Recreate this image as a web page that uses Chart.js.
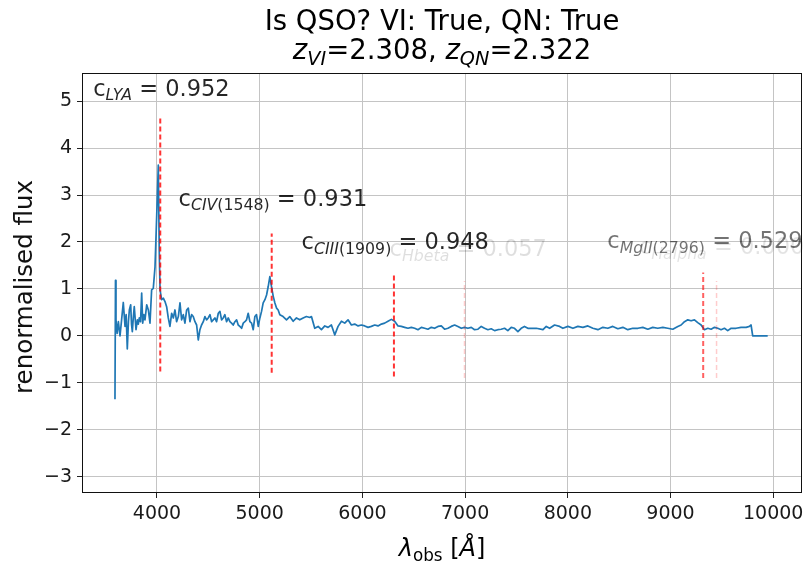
<!DOCTYPE html>
<html><head><meta charset="utf-8">
<script src="https://cdn.jsdelivr.net/npm/chart.js@4.4.1/dist/chart.umd.min.js"></script>
<style>html,body{margin:0;padding:0;background:#fff;}canvas{display:block;}</style>
</head><body>
<canvas id="c" width="811" height="566" style="width:811px;height:566px"></canvas>
<script>
// ---- data ----
const wavelength = [3591,3596,3601,3612,3624,3640,3656,3672,3689,3700,3711,3722,3731,3744,3752,3760,3770,3779,3796,3809,3818,3828,3840,3851,3861,3872,3883,3900,3916,3932,3948,3964,3981,3997,4013,4022,4030,4045,
4062,4078,4094,4110,4126,4143,4159,4175,4191,4208,4224,4240,4256,4272,4289,4305,4321,4337,4353,4370,4386,4402,4418,4434,4451,4467,4483,4499,4516,4532,4548,4564,4580,4597,4613,4629,4645,4661,4678,4694,4710,4726,4742,4759,4775,4791,4807,4824,4840,4856,4872,4888,4905,4921,4937,4953,4969,4986,5002,5018,5034,5051,5067,5083,5099,5115,5132,5148,5164,5180,
5196,5228,5261,5293,5326,5358,5390,5423,5455,5488,5504,5536,5569,5601,5634,5666,5698,5731,5763,5796,5828,5860,5893,5925,5958,5990,6023,6055,6087,6120,6152,6185,6217,6249,6282,6314,6347,6379,6411,6444,6476,6509,6541,6574,6606,6638,6671,6703,6736,6768,6800,6833,6865,6898,6930,6963,6995,7027,7060,7092,7125,7157,7189,7222,7254,7287,7319,7351,7384,7416,7449,7481,7514,7546,7578,7611,
7628,7693,7758,7790,7823,7871,7920,7952,8001,8050,8098,8147,8195,8244,8293,8341,8390,8438,8487,8536,8584,8633,8682,8730,8779,8827,8876,8925,8973,9022,9071,9103,9136,9168,9200,9233,9265,9298,9330,9363,9395,9428,9460,9492,9525,9557,9590,9638,9687,9736,9768,9784,9800,9898,9946];
const flux = [-1.35,1.18,0.34,0.05,0.30,0.00,0.35,0.71,0.20,0.45,-0.28,0.30,0.55,0.66,0.25,0.09,0.40,0.62,0.13,0.34,0.25,0.38,0.30,0.91,0.27,0.45,0.34,0.66,0.55,0.27,0.98,1.01,1.47,2.54,3.64,1.83,0.98,0.77,
0.80,0.73,0.62,0.38,0.20,0.48,0.38,0.55,0.30,0.41,0.70,0.34,0.45,0.27,0.55,0.59,0.30,0.45,0.41,0.30,0.23,-0.09,0.13,0.23,0.30,0.41,0.34,0.38,0.45,0.30,0.34,0.38,0.30,0.48,0.52,0.34,0.38,0.45,0.30,0.38,0.30,0.27,0.23,0.30,0.34,0.23,0.20,0.16,0.27,0.30,0.34,0.48,0.30,0.27,0.13,0.41,0.45,0.20,0.38,0.52,0.70,0.77,0.87,1.05,1.26,1.05,0.84,0.70,0.59,0.55,
0.45,0.41,0.34,0.41,0.31,0.38,0.34,0.38,0.41,0.39,0.41,0.16,0.20,0.13,0.21,0.18,0.23,0.02,0.20,0.31,0.27,0.34,0.23,0.25,0.21,0.23,0.21,0.18,0.20,0.23,0.21,0.25,0.27,0.31,0.35,0.31,0.21,0.20,0.18,0.16,0.18,0.16,0.13,0.18,0.16,0.14,0.18,0.16,0.20,0.21,0.14,0.16,0.20,0.23,0.20,0.16,0.18,0.16,0.18,0.13,0.14,0.20,0.16,0.13,0.15,0.11,0.13,0.14,0.16,0.11,0.18,0.16,0.09,0.16,0.20,0.16,
0.16,0.16,0.13,0.20,0.16,0.23,0.20,0.16,0.20,0.16,0.20,0.18,0.21,0.16,0.13,0.18,0.16,0.20,0.15,0.18,0.13,0.16,0.16,0.18,0.14,0.18,0.16,0.18,0.16,0.14,0.20,0.23,0.30,0.34,0.32,0.34,0.28,0.23,0.13,0.16,0.14,0.18,0.16,0.13,0.16,0.11,0.16,0.16,0.18,0.18,0.20,0.23,0.00,0.00,0.00];

const lineNames   = ['LYA', 'CIV(1548)', 'CIII(1909)', 'Hbeta', 'MgII(2796)', 'Halpha'];
const lineCenters = [4032, 5117, 6307, 6994, 9318, 9448];
const lineLow     = [-0.76, -0.79, -0.87, -0.90, -0.90, -0.90];
const lineHigh    = [4.63, 2.18, 1.35, 1.17, 1.35, 1.17];
const lineCoeffs  = ['0.952', '0.931', '0.948', '0.057', '0.529', '0.000'];

const xTicks = [4000, 5000, 6000, 7000, 8000, 9000, 10000];
const yTicks = [-3, -2, -1, 0, 1, 2, 3, 4, 5];

const titleText = 'Is QSO? VI: True, QN: True';
const zVI = '2.308', zQN = '2.322';

// ---- styling (not data) ----
const FONT = 'DejaVu Sans';
const lineStyles = [
  {color: 'rgba(255,0,0,0.8)', width: 2},
  {color: 'rgba(255,0,0,0.8)', width: 2},
  {color: 'rgba(255,0,0,0.8)', width: 2},
  {color: 'rgba(255,0,0,0.2)', width: 1.5},
  {color: 'rgba(255,0,0,0.62)', width: 2},
  {color: 'rgba(255,0,0,0.2)', width: 1.5}
];
const labelStyles = [
  {x: 3379, y: 5.11, alpha: 0.85},
  {x: 4210, y: 2.77, alpha: 0.85},
  {x: 5408, y: 1.84, alpha: 0.85},
  {x: 6265, y: 1.69, alpha: 0.13},
  {x: 8385, y: 1.87, alpha: 0.55},
  {x: 8692, y: 1.74, alpha: 0.11}
];

function fontStr(size, italic) { return (italic ? 'italic ' : '') + size + 'px "' + FONT + '"'; }
function richWidth(ctx, parts, size) {
  let w = 0;
  for (const p of parts) { ctx.font = fontStr(p.sub ? size * 0.7 : size, p.it); w += ctx.measureText(p.t).width; }
  return w;
}
function drawRich(ctx, parts, x, y, size, color, align) {
  ctx.save();
  ctx.fillStyle = color; ctx.textBaseline = 'alphabetic'; ctx.textAlign = 'left';
  let cx = x;
  if (align === 'center') cx = x - richWidth(ctx, parts, size) / 2;
  for (const p of parts) {
    const s = p.sub ? size * 0.7 : size;
    ctx.font = fontStr(s, p.it);
    ctx.fillText(p.t, cx, y + (p.sub ? size * 0.2 : 0));
    cx += ctx.measureText(p.t).width;
  }
  ctx.restore();
}
function subParts(name) {
  const out = [];
  const re = /([A-Za-z]+)|([^A-Za-z]+)/g; let m;
  while ((m = re.exec(name))) out.push({t: m[0], it: !!m[1], sub: true});
  return out;
}

const framePlugin = {
  id: 'frame',
  afterDatasetsDraw(chart) {
    const a = chart.chartArea, ctx = chart.ctx;
    ctx.save(); ctx.strokeStyle = '#111'; ctx.lineWidth = 1;
    ctx.strokeRect(Math.round(a.left) + 0.5, Math.round(a.top) + 0.5, Math.round(a.right - a.left) - 1, Math.round(a.bottom - a.top) - 1);
    ctx.restore();
  }
};
const textPlugin = {
  id: 'texts',
  afterDraw(chart) {
    const ctx = chart.ctx, a = chart.chartArea, xs = chart.scales.x, ys = chart.scales.y;
    const cx = (a.left + a.right) / 2;
    drawRich(ctx, [{t: titleText}], cx, 30, 27.5, '#000', 'center');
    drawRich(ctx, [{t: 'z', it: true}, {t: 'VI', it: true, sub: true}, {t: '=' + zVI + ', '},
                   {t: 'z', it: true}, {t: 'QN', it: true, sub: true}, {t: '=' + zQN}], cx, 59, 27.5, '#000', 'center');
    // x label
    drawRich(ctx, [{t: 'λ', it: true}, {t: 'obs', sub: true}, {t: ' ['}, {t: 'Å', it: true}, {t: ']'}], cx, 556, 24, '#000', 'center');
    // y label
    ctx.save();
    ctx.translate(32, (a.top + a.bottom) / 2 + 4);
    ctx.rotate(-Math.PI / 2);
    drawRich(ctx, [{t: 'renormalised flux'}], 0, 0, 24.5, '#111', 'center');
    ctx.restore();
    // line annotations
    lineNames.forEach((name, i) => {
      const st = labelStyles[i];
      const parts = [{t: 'c'}].concat(subParts(name)).concat([{t: ' = ' + lineCoeffs[i]}]);
      drawRich(ctx, parts, xs.getPixelForValue(st.x), ys.getPixelForValue(st.y), 22.5, 'rgba(0,0,0,' + st.alpha + ')', 'left');
    });
  }
};

const datasets = [];
lineNames.forEach((name, i) => {
  datasets.push({
    data: [{x: lineCenters[i], y: lineLow[i]}, {x: lineCenters[i], y: lineHigh[i]}],
    borderColor: lineStyles[i].color, borderWidth: lineStyles[i].width,
    borderDash: [5, 3], pointRadius: 0, fill: false, tension: 0
  });
});
datasets.push({
  data: wavelength.map((w, i) => ({x: w, y: flux[i]})),
  borderColor: '#1f77b4', borderWidth: 1.7, pointRadius: 0, fill: false, tension: 0,
  borderJoinStyle: 'round'
});

new Chart(document.getElementById('c').getContext('2d'), {
  type: 'line',
  data: {datasets},
  options: {
    responsive: false, animation: false,
    layout: {padding: {left: 0, right: 9, top: 73, bottom: 0}},
    plugins: {legend: {display: false}, title: {display: false}, tooltip: {enabled: false}},
    scales: {
      x: {
        type: 'linear', min: 3270, max: 10280,
        afterBuildTicks: s => { s.ticks = xTicks.map(v => ({value: v})); },
        afterFit: s => { s.height = 73; },
        border: {display: false},
        grid: {color: '#c4c4c4', lineWidth: 1, tickLength: 5, tickColor: '#222'},
        ticks: {font: {family: FONT, size: 19}, color: '#1a1a1a', padding: 5, maxRotation: 0, autoSkip: false,
                callback: v => String(v)}
      },
      y: {
        type: 'linear', min: -3.35, max: 5.6,
        afterBuildTicks: s => { s.ticks = yTicks.map(v => ({value: v})); },
        afterFit: s => { s.width = 82; },
        border: {display: false},
        grid: {color: '#c4c4c4', lineWidth: 1, tickLength: 5, tickColor: '#222'},
        ticks: {font: {family: FONT, size: 19}, color: '#1a1a1a', padding: 5, autoSkip: false,
                callback: v => (v < 0 ? '\u2212' + Math.abs(v) : String(v))}
      }
    }
  },
  plugins: [framePlugin, textPlugin]
});
</script>
</body></html>
